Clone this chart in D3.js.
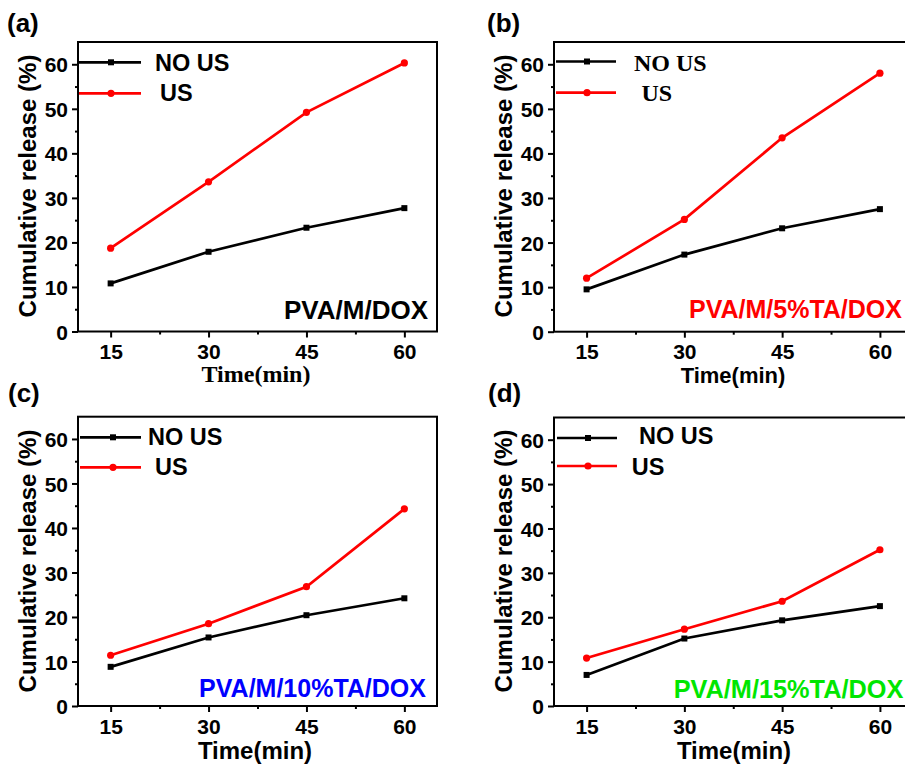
<!DOCTYPE html>
<html>
<head>
<meta charset="utf-8">
<script src="https://cdn.jsdelivr.net/npm/d3@7"></script>
<style>
  body { margin: 0; background: #fff; }
  svg { display: block; }
  text { font-family: "Liberation Sans", Arial, sans-serif; font-weight: bold; }
</style>
</head>
<body>
<svg id="fig" width="905" height="766"></svg>
<script>
// data (cumulative release %, per time point)
const times = [15, 30, 45, 60];
const x_ticks = [15, 30, 45, 60];
const x_minor = [22.5, 37.5, 52.5];
const y_ticks = [0, 10, 20, 30, 40, 50, 60];
const y_minor = [5, 15, 25, 35, 45, 55];

const no_us_a = [10.8, 17.9, 23.3, 27.7];
const us_a    = [18.7, 33.6, 49.2, 60.3];
const no_us_b = [9.5, 17.3, 23.2, 27.5];
const us_b    = [12.0, 25.2, 43.5, 58.0];
const no_us_c = [8.8, 15.4, 20.4, 24.2];
const us_c    = [11.4, 18.5, 26.8, 44.3];
const no_us_d = [7.0, 15.2, 19.3, 22.5];
const us_d    = [10.8, 17.3, 23.6, 35.2];

const panel_names = ['(a)', '(b)', '(c)', '(d)'];
const sample_names = ['PVA/M/DOX', 'PVA/M/5%TA/DOX', 'PVA/M/10%TA/DOX', 'PVA/M/15%TA/DOX'];
const sample_colors = ['#000000', '#ff0000', '#0000ff', '#00e600'];
const legend_names = ['NO US', 'US'];

const sans = '"Liberation Sans", Arial, sans-serif';
const serif = '"Liberation Serif", "Times New Roman", serif';

const svg = d3.select('#fig');

// layout per panel
const panels = [
  {x0: 78, x1: 437, y0: 331.5, y1: 42, noUs: no_us_a, us: us_a,
   lab: [7, 32], ylab: [36, 186], xlab: [256, 382, 24], xlabFont: serif,
   leg: {lx0: 79, lx1: 141, mk: 111, yb: 62.3, yr: 93.3, tx: [155, 160], ty: [70.7, 101], font: sans},
   ann: [428, 319, 26]},
  {x0: 554, x1: 912.5, y0: 331.7, y1: 42, noUs: no_us_b, us: us_b,
   lab: [487, 32], ylab: [512, 186], xlab: [733, 382.5, 22], xlabFont: sans,
   leg: {lx0: 556, lx1: 616, mk: 587, yb: 61.5, yr: 92.7, tx: [634, 641.5], ty: [70.7, 101], font: serif},
   ann: [902, 318.3, 25]},
  {x0: 78, x1: 437, y0: 706, y1: 416.7, noUs: no_us_c, us: us_c,
   lab: [8, 401.5], ylab: [36, 561], xlab: [255, 759, 24], xlabFont: sans,
   leg: {lx0: 80, lx1: 141, mk: 113, yb: 437.3, yr: 467.3, tx: [148, 155], ty: [444.5, 474.5], font: sans},
   ann: [426, 696.7, 25]},
  {x0: 554, x1: 912.5, y0: 706, y1: 417.5, noUs: no_us_d, us: us_d,
   lab: [488, 401.5], ylab: [512, 561], xlab: [734, 759, 24], xlabFont: sans,
   leg: {lx0: 557, lx1: 617, mk: 588, yb: 438, yr: 466, tx: [639, 631.7], ty: [443.5, 474.5], font: sans},
   ann: [903.3, 698.3, 25.3]}
];

function draw_panel(p, i) {
  const g = svg.append('g');
  const x = d3.scaleLinear().domain([10, 65]).range([p.x0, p.x1]);
  const y = d3.scaleLinear().domain([0, 65]).range([p.y0, p.y1]);

  // minor ticks
  g.append('g')
    .attr('transform', 'translate(0,' + p.y0 + ')')
    .call(d3.axisBottom(x).tickValues(x_minor).tickSize(3).tickSizeOuter(0).tickFormat(''))
    .call(a => a.select('.domain').remove())
    .selectAll('line').attr('stroke-width', 2);
  g.append('g')
    .attr('transform', 'translate(' + p.x0 + ',0)')
    .call(d3.axisLeft(y).tickValues(y_minor).tickSize(3).tickSizeOuter(0).tickFormat(''))
    .call(a => a.select('.domain').remove())
    .selectAll('line').attr('stroke-width', 2);

  // major ticks
  const xa = g.append('g')
    .attr('transform', 'translate(0,' + p.y0 + ')')
    .call(d3.axisBottom(x).tickValues(x_ticks).tickSize(6).tickSizeOuter(0));
  xa.select('.domain').remove();
  xa.selectAll('line').attr('stroke-width', 2);
  xa.selectAll('text')
    .attr('y', 27.5).attr('dy', null)
    .style('font-family', sans).style('font-weight', 'bold')
    .style('font-size', '21px').attr('fill', '#000');

  const ya = g.append('g')
    .attr('transform', 'translate(' + p.x0 + ',0)')
    .call(d3.axisLeft(y).tickValues(y_ticks).tickSize(6).tickSizeOuter(0).tickPadding(4));
  ya.select('.domain').remove();
  ya.selectAll('line').attr('stroke-width', 2);
  ya.selectAll('text')
    .attr('dy', '0.36em')
    .style('font-family', sans).style('font-weight', 'bold')
    .style('font-size', '21px').attr('fill', '#000');

  // frame
  g.append('rect')
    .attr('x', p.x0).attr('y', p.y1)
    .attr('width', p.x1 - p.x0).attr('height', p.y0 - p.y1)
    .attr('fill', 'none').attr('stroke', '#000').attr('stroke-width', 2);

  // series
  const line = d3.line().x((d, j) => x(times[j])).y(d => y(d));
  g.append('path').datum(p.noUs)
    .attr('d', line).attr('fill', 'none').attr('stroke', '#000').attr('stroke-width', 2.7);
  g.selectAll('.sq').data(p.noUs).enter().append('rect')
    .attr('x', (d, j) => x(times[j]) - 3).attr('y', d => y(d) - 3)
    .attr('width', 6).attr('height', 6).attr('fill', '#000');

  g.append('path').datum(p.us)
    .attr('d', line).attr('fill', 'none').attr('stroke', '#ff0000').attr('stroke-width', 2.7);
  g.selectAll('.dot').data(p.us).enter().append('circle')
    .attr('cx', (d, j) => x(times[j])).attr('cy', d => y(d))
    .attr('r', 3.6).attr('fill', '#ff0000');

  // legend
  const L = p.leg;
  g.append('line').attr('x1', L.lx0).attr('x2', L.lx1).attr('y1', L.yb).attr('y2', L.yb)
    .attr('stroke', '#000').attr('stroke-width', 2.7);
  g.append('rect').attr('x', L.mk - 3).attr('y', L.yb - 3).attr('width', 6).attr('height', 6).attr('fill', '#000');
  g.append('line').attr('x1', L.lx0).attr('x2', L.lx1).attr('y1', L.yr).attr('y2', L.yr)
    .attr('stroke', '#ff0000').attr('stroke-width', 2.7);
  g.append('circle').attr('cx', L.mk).attr('cy', L.yr).attr('r', 3.6).attr('fill', '#ff0000');
  legend_names.forEach((n, k) => {
    g.append('text').attr('x', L.tx[k]).attr('y', L.ty[k])
      .style('font-family', L.font)
      .style('font-size', L.font === serif ? '24px' : '23.5px')
      .text(n);
  });

  // sample annotation
  g.append('text')
    .attr('x', p.ann[0]).attr('y', p.ann[1])
    .attr('text-anchor', 'end')
    .attr('fill', sample_colors[i])
    .style('font-size', p.ann[2] + 'px')
    .text(sample_names[i]);

  // axis titles
  g.append('text')
    .attr('x', p.xlab[0])
    .attr('y', p.xlab[1])
    .attr('text-anchor', 'middle')
    .style('font-family', p.xlabFont)
    .style('font-size', p.xlab[2] + 'px')
    .text('Time(min)');

  g.append('text')
    .attr('transform', 'translate(' + p.ylab[0] + ',' + p.ylab[1] + ') rotate(-90)')
    .attr('text-anchor', 'middle')
    .style('font-size', '24px')
    .text('Cumulative release (%)');

  // panel letter
  g.append('text')
    .attr('x', p.lab[0]).attr('y', p.lab[1])
    .style('font-size', '26px')
    .text(panel_names[i]);
}

panels.forEach(draw_panel);
</script>
</body>
</html>
